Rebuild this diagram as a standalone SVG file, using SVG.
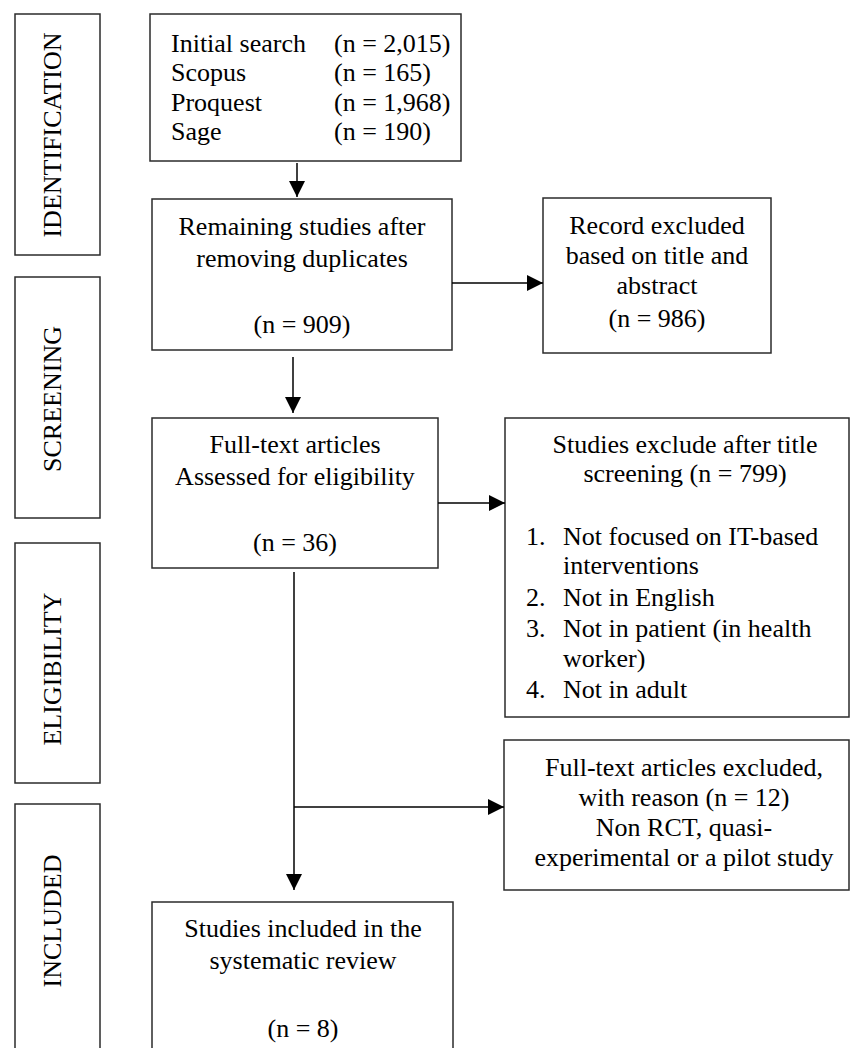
<svg xmlns="http://www.w3.org/2000/svg" width="851" height="1048" viewBox="0 0 851 1048">
  <style>
    .box { fill: #ffffff; stroke: #2b2b2b; stroke-width: 1.5; }
    .t { font-family: "Liberation Serif", "Times New Roman", serif; font-size: 26px; fill: #000000; }
    .c { text-anchor: middle; }
    .conn { stroke: #000000; stroke-width: 1.5; fill: none; }
  </style>
  <defs>
    <marker id="ah" markerUnits="userSpaceOnUse" markerWidth="16" markerHeight="16" viewBox="0 0 16 16" refX="16" refY="8" orient="auto">
      <path d="M0,0 L16,8 L0,16 Z" fill="#000000"/>
    </marker>
  </defs>
  <rect width="851" height="1048" fill="#ffffff"/>

  <g id="stage-identification">
    <rect class="box" x="15" y="14" width="85" height="241"/>
    <text class="t c" transform="translate(61,135) rotate(-90)">IDENTIFICATION</text>
  </g>
  <g id="stage-screening">
    <rect class="box" x="15" y="277" width="85" height="241"/>
    <text class="t c" transform="translate(61,399) rotate(-90)">SCREENING</text>
  </g>
  <g id="stage-eligibility">
    <rect class="box" x="15" y="543" width="85" height="240"/>
    <text class="t c" transform="translate(61,669) rotate(-90)">ELIGIBILITY</text>
  </g>
  <g id="stage-included">
    <rect class="box" x="15" y="804" width="85" height="260"/>
    <text class="t c" transform="translate(61,921) rotate(-90)">INCLUDED</text>
  </g>

  <g id="initial-search">
    <rect class="box" x="150" y="14" width="311" height="147"/>
    <text class="t" x="171" y="52">Initial search</text>
    <text class="t" x="334" y="52">(n = 2,015)</text>
    <text class="t" x="171" y="81">Scopus</text>
    <text class="t" x="334" y="81">(n = 165)</text>
    <text class="t" x="171" y="111">Proquest</text>
    <text class="t" x="334" y="111">(n = 1,968)</text>
    <text class="t" x="171" y="140">Sage</text>
    <text class="t" x="334" y="140">(n = 190)</text>
  </g>

  <g id="remaining">
    <rect class="box" x="152" y="199" width="300" height="151"/>
    <text class="t c" x="302" y="235">Remaining studies after</text>
    <text class="t c" x="302" y="267">removing duplicates</text>
    <text class="t c" x="302" y="333">(n = 909)</text>
  </g>

  <g id="record-excluded">
    <rect class="box" x="543" y="198" width="228" height="155"/>
    <text class="t c" x="657" y="234">Record excluded</text>
    <text class="t c" x="657" y="264">based on title and</text>
    <text class="t c" x="657" y="294">abstract</text>
    <text class="t c" x="657" y="327">(n = 986)</text>
  </g>

  <g id="full-text">
    <rect class="box" x="152" y="418" width="286" height="150"/>
    <text class="t c" x="295" y="453">Full-text articles</text>
    <text class="t c" x="295" y="485">Assessed for eligibility</text>
    <text class="t c" x="295" y="551">(n = 36)</text>
  </g>

  <g id="studies-exclude">
    <rect class="box" x="505" y="418" width="344" height="299"/>
    <text class="t c" x="685" y="453">Studies exclude after title</text>
    <text class="t c" x="685" y="482">screening (n = 799)</text>
    <text class="t" x="526" y="545">1.</text>
    <text class="t" x="563" y="545">Not focused on IT-based</text>
    <text class="t" x="563" y="574">interventions</text>
    <text class="t" x="526" y="606">2.</text>
    <text class="t" x="563" y="606">Not in English</text>
    <text class="t" x="526" y="637">3.</text>
    <text class="t" x="563" y="637">Not in patient (in health</text>
    <text class="t" x="563" y="667">worker)</text>
    <text class="t" x="526" y="698">4.</text>
    <text class="t" x="563" y="698">Not in adult</text>
  </g>

  <g id="fulltext-excluded">
    <rect class="box" x="504" y="740" width="345" height="150"/>
    <text class="t c" x="684" y="776">Full-text articles excluded,</text>
    <text class="t c" x="684" y="806">with reason (n = 12)</text>
    <text class="t c" x="684" y="836">Non RCT, quasi-</text>
    <text class="t c" x="684" y="866">experimental or a pilot study</text>
  </g>

  <g id="included">
    <rect class="box" x="152" y="902" width="301" height="160"/>
    <text class="t c" x="303" y="937">Studies included in the</text>
    <text class="t c" x="303" y="969">systematic review</text>
    <text class="t c" x="303" y="1037">(n = 8)</text>
  </g>

  <g id="connectors">
    <line class="conn" x1="297" y1="163" x2="297" y2="197" marker-end="url(#ah)"/>
    <line class="conn" x1="452" y1="283" x2="543" y2="283" marker-end="url(#ah)"/>
    <line class="conn" x1="293" y1="357" x2="293" y2="413" marker-end="url(#ah)"/>
    <line class="conn" x1="438" y1="503" x2="505" y2="503" marker-end="url(#ah)"/>
    <line class="conn" x1="294" y1="572" x2="294" y2="890" marker-end="url(#ah)"/>
    <line class="conn" x1="294" y1="807" x2="504" y2="807" marker-end="url(#ah)"/>
  </g>
</svg>
